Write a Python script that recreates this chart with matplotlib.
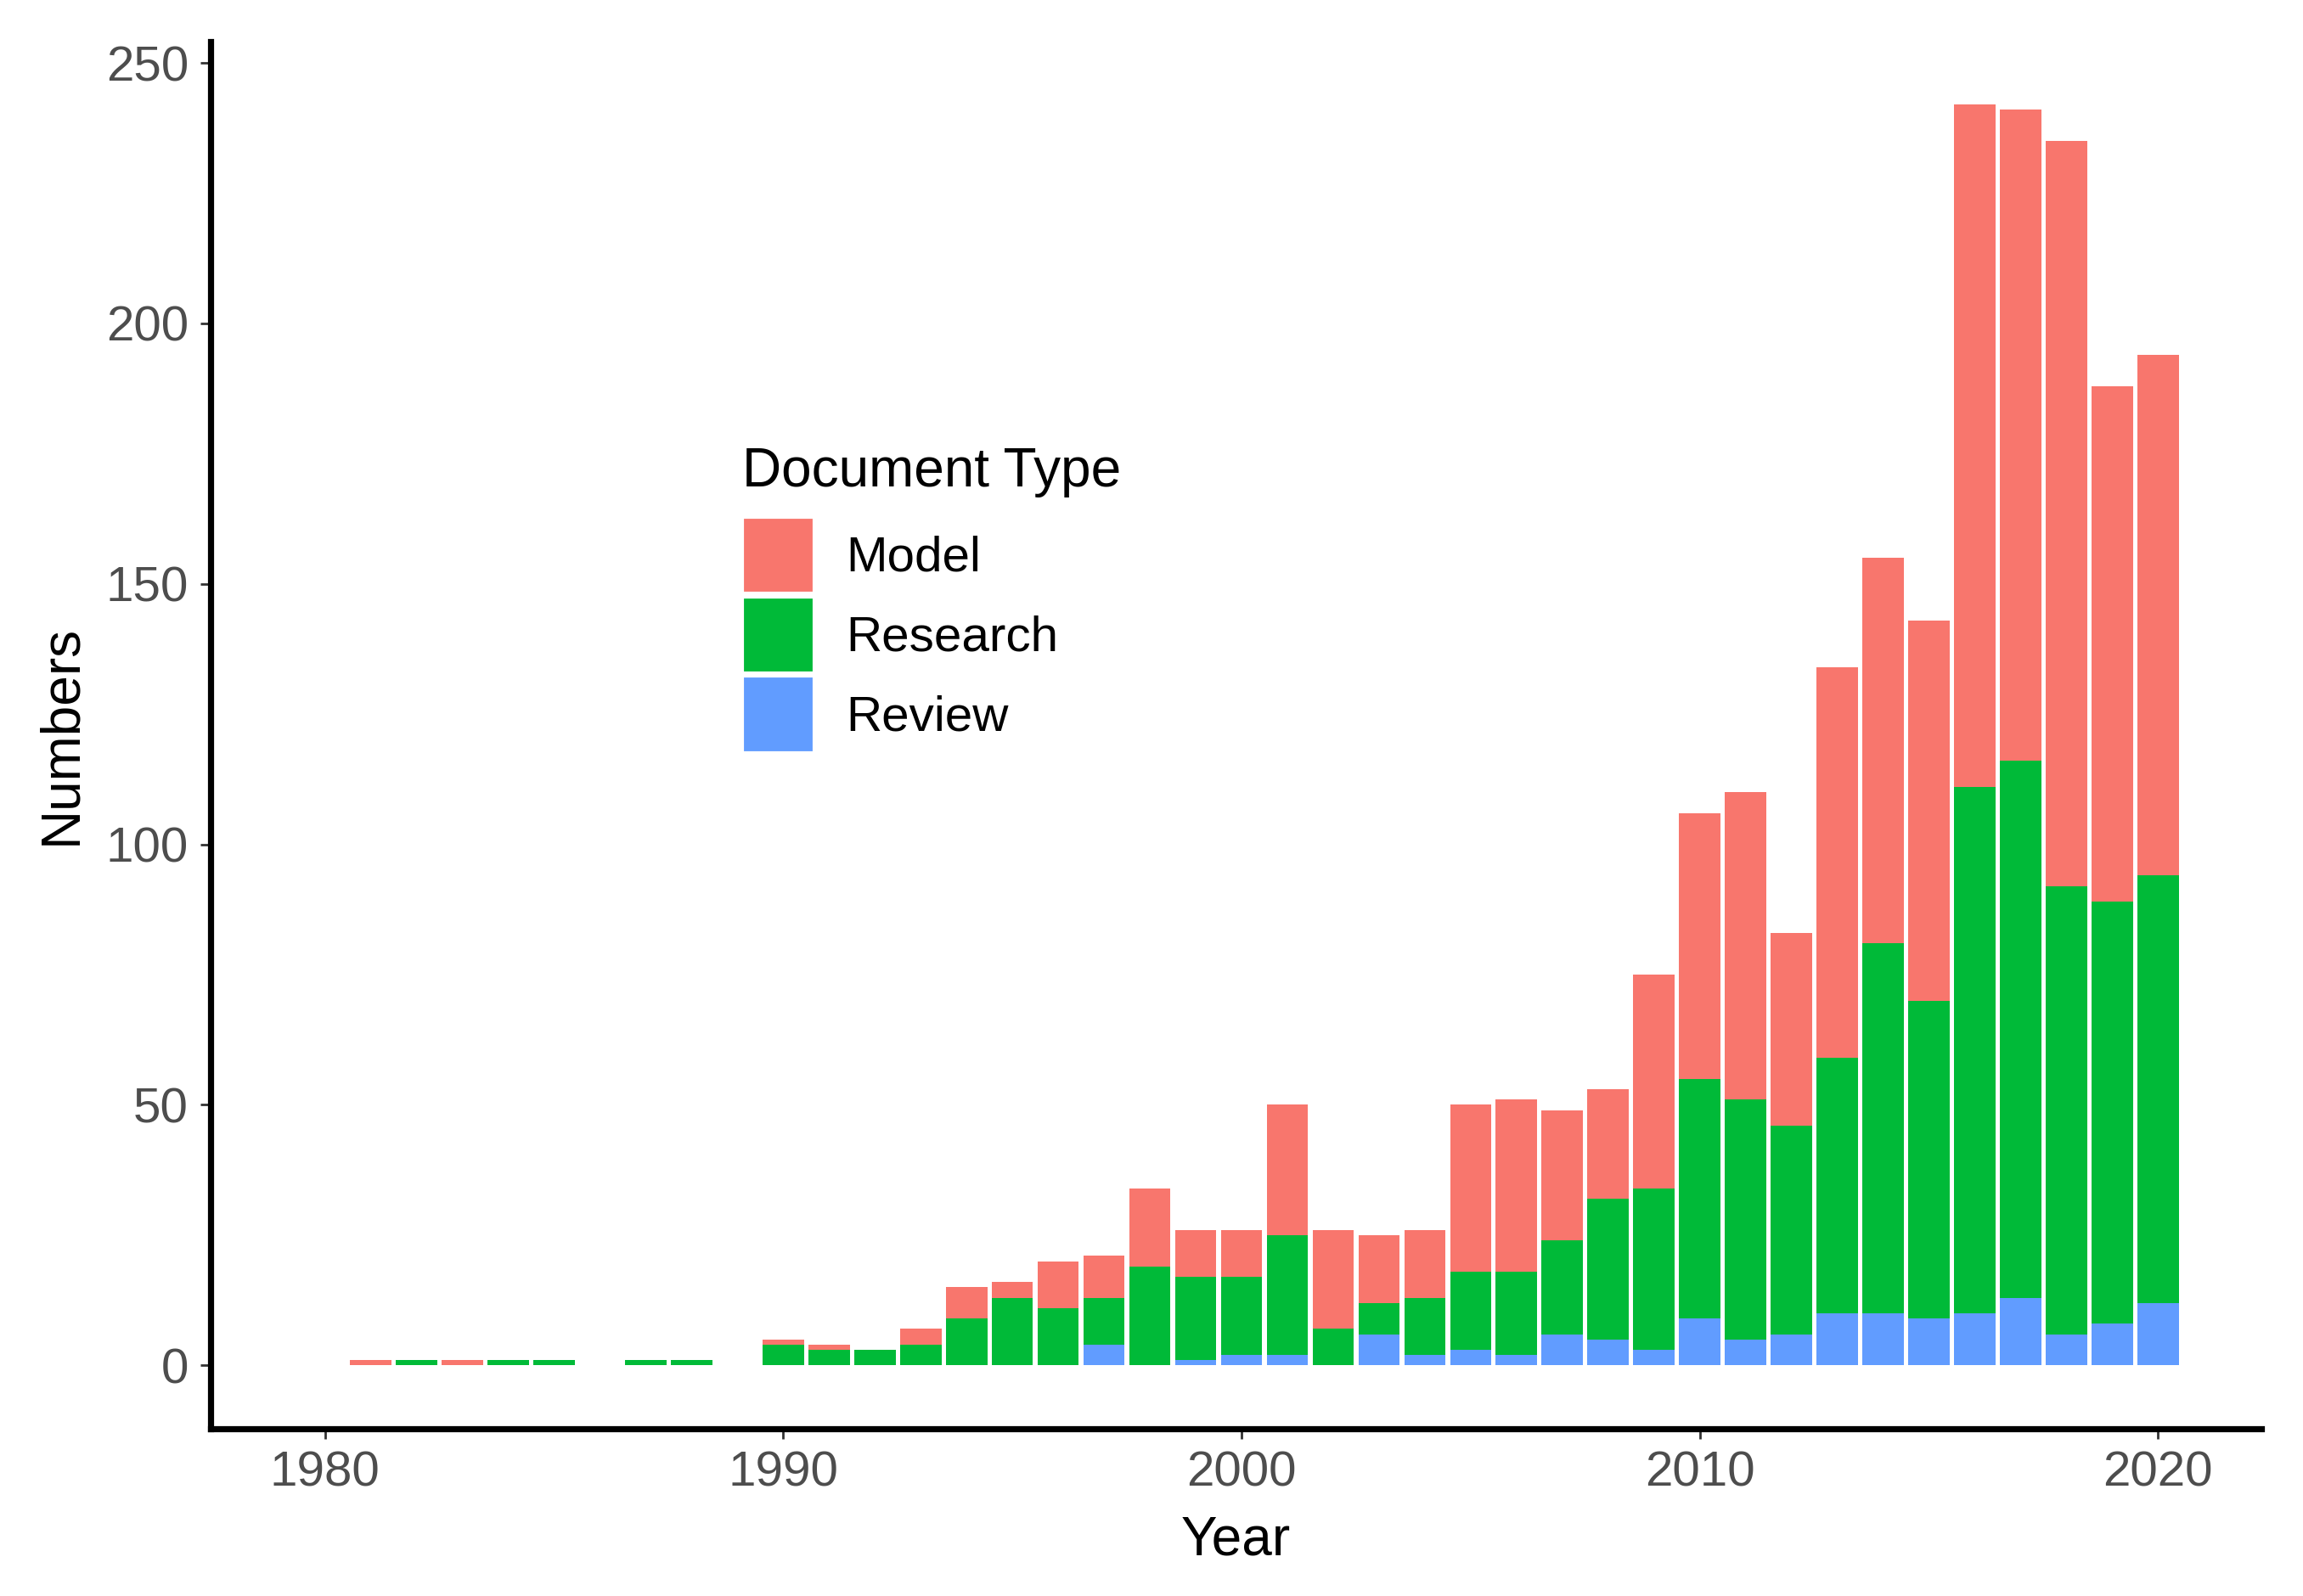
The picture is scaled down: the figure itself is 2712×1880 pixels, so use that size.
import numpy as np
import matplotlib.pyplot as plt
from matplotlib.patches import Patch

plt.rcParams['font.family'] = ['Liberation Sans', 'DejaVu Sans']

years = np.arange(1981, 2021)

# counts per year
model = [1, 0, 1, 0, 0, 0, 0, 0, 0, 1,
         1, 0, 3, 6, 3, 9, 8, 15, 9, 9,
         25, 19, 13, 13, 32, 33, 25, 21, 41, 51,
         59, 37, 75, 74, 73, 131, 125, 143, 99, 100]
research = [0, 1, 0, 1, 1, 0, 1, 1, 0, 4,
            3, 3, 4, 9, 13, 11, 9, 19, 16, 15,
            23, 7, 6, 11, 15, 16, 18, 27, 31, 46,
            46, 40, 49, 71, 61, 101, 103, 86, 81, 82]
review = [0, 0, 0, 0, 0, 0, 0, 0, 0, 0,
          0, 0, 0, 0, 0, 0, 4, 0, 1, 2,
          2, 0, 6, 2, 3, 2, 6, 5, 3, 9,
          5, 6, 10, 10, 9, 10, 13, 6, 8, 12]

labels = ['Model', 'Research', 'Review']
colors = ['#F8766D', '#00BA38', '#619CFF']

model = np.array(model)
research = np.array(research)
review = np.array(review)

fig = plt.figure(figsize=(13.56, 9.4), dpi=200)
ax = fig.add_axes([0.0914, 0.105, 0.8904, 0.869])

ax.bar(years, review, width=0.9, color=colors[2])
ax.bar(years, research, width=0.9, bottom=review, color=colors[1])
ax.bar(years, model, width=0.9, bottom=review + research, color=colors[0])

ax.set_xlim(1977.5, 2022.25)
ax.set_ylim(-12.1, 254.1)
ax.set_xticks([1980, 1990, 2000, 2010, 2020])
ax.set_yticks([0, 50, 100, 150, 200, 250])

for side in ['top', 'right']:
    ax.spines[side].set_visible(False)
for side in ['left', 'bottom']:
    ax.spines[side].set_linewidth(2.6)
    ax.spines[side].set_color('black')

ax.tick_params(axis='both', length=4.3, width=1, color='#333333',
               labelsize=21, labelcolor='#4D4D4D', pad=5)

ax.set_xlabel('Year', fontsize=23, color='black', labelpad=8)
ax.set_ylabel('Numbers', fontsize=23, color='black', labelpad=8)

# legend keys, title drawn separately so the gap can be set
handles = [Patch(facecolor=c, edgecolor='white', linewidth=1.5) for c in colors]
ax.legend(handles, labels, loc='upper left', bbox_to_anchor=(0.2594, 0.657),
          frameon=False, fontsize=21, borderpad=0, borderaxespad=0,
          handlelength=1.46, handleheight=2.0, labelspacing=0.06,
          handletextpad=0.63)
ax.text(0.2594, 0.679, 'Document Type', transform=ax.transAxes,
        fontsize=23, ha='left', va='baseline', color='black')

fig.savefig('out.png', dpi=200)
